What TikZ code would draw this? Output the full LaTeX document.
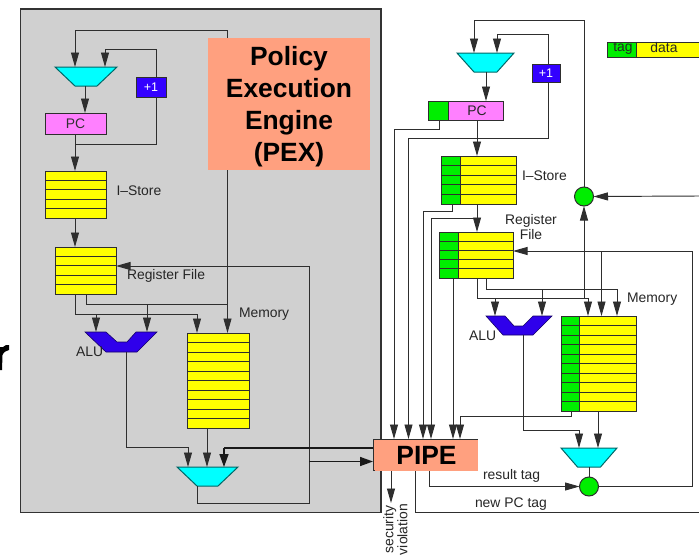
\documentclass[tikz,border=0pt]{standalone}
\usepackage{fontspec}
\setmainfont{Liberation Sans}
\usetikzlibrary{arrows.meta}
\definecolor{lc}{HTML}{2E2E2E}
\definecolor{bgray}{HTML}{D0D0D0}
\definecolor{salmon}{HTML}{FFA07F}
\definecolor{pcpink}{HTML}{FF80FF}
\definecolor{incblue}{HTML}{3300FF}
\definecolor{gtag}{HTML}{00EE00}
\definecolor{yel}{HTML}{FFFF00}
\definecolor{cy}{HTML}{00FFFF}
\tikzset{
  ln/.style={draw=lc,line width=0.95pt},
  arr/.style={ln,-{Triangle[length=14.5pt,width=8pt]}},
  thickln/.style={draw=black!90,line width=1.5pt},
  thickarr/.style={thickln,-{Triangle[length=13pt,width=9pt]}},
  sbox/.style={rectangle,draw=lc,line width=1pt,inner sep=0pt,outer sep=0pt},
  nobox/.style={rectangle,inner sep=0pt,outer sep=0pt},
  lab/.style={inner sep=0pt,outer sep=0pt,text=black!85,font=\fontsize{13.9}{15}\selectfont},
  big/.style={font=\fontsize{26.4}{32}\selectfont\bfseries,align=center,text=black},
  muxs/.style={fill=cy,draw=black!60!cy,line width=1pt,line join=miter},
  alus/.style={fill=incblue!92!black,draw=black!60!incblue,line width=0.6pt},
  circ/.style={circle,fill=gtag!100,draw=lc,line width=1pt,minimum size=19pt,inner sep=0pt,outer sep=0pt}
}
% name x1 y1 x2 y2 fill text
\newcommand\bx[7]{\node[sbox,fill=#6,minimum width={(#4-#2)*1pt},minimum height={(#5-#3)*1pt}] (#1) at ({(#2+#4)/2},{(#3+#5)/2}) {#7};}
% name x1 y1 x2 y2 rows
\newcommand\rows[6]{\bx{#1}{#2}{#3}{#4}{#5}{yel}{}%
  \pgfmathsetmacro\rstep{(#5-#3)/#6}%
  \foreach \ri in {1,...,\numexpr#6-1\relax}{\draw[ln] (#2,{#3+\ri*\rstep}) -- (#4,{#3+\ri*\rstep});}}
% name x1 y1 x2 y2 rows tagx
\newcommand\trows[7]{\bx{#1}{#2}{#3}{#4}{#5}{yel}{}%
  \fill[gtag] (#2,#3) rectangle (#7,#5);%
  \draw[sbox] (#2,#3) rectangle (#4,#5);%
  \draw[ln] (#7,#3) -- (#7,#5);%
  \pgfmathsetmacro\rstep{(#5-#3)/#6}%
  \foreach \ri in {1,...,\numexpr#6-1\relax}{\draw[ln] (#2,{#3+\ri*\rstep}) -- (#4,{#3+\ri*\rstep});}}
% name x-left x-right y-top y-bottom inset
\newcommand\mux[6]{\node[nobox,minimum width={(#3-#2)*1pt},minimum height={(#5-#4)*1pt}] (#1) at ({(#2+#3)/2},{(#4+#5)/2}) {};%
  \draw[muxs] (#2,#4) -- (#3,#4) -- ({#3-#6},#5) -- ({#2+#6},#5) -- cycle;}
\begin{document}
\begin{tikzpicture}[x=1pt,y=-1pt]
\useasboundingbox (0,0) rectangle (699,557);
\fill[white] (0,0) rectangle (699,557);
\draw[fill=bgray,draw=black!80,line width=1.1pt] (20.5,9) rectangle (381,512.5);
% stray fragment at the page edge
\fill[black] (0,347) -- (3,347) .. controls (4,345.5) and (7,344.5) .. (9,345) -- (9,350) .. controls (7,351) and (4,351) .. (2.5,355) -- (2,370) -- (0,370) -- cycle;

% ---------- left processor ----------
\mux{lmuxa}{55}{117}{67}{86}{20}
\bx{lpc}{45}{113}{106}{134}{pcpink}{\fontsize{13.9}{15}\selectfont\color{black!80}PC}
\bx{linc}{136}{77.5}{166}{97}{incblue}{\fontsize{12.5}{14}\selectfont\color{white}+1}
\rows{lis}{45}{171}{106}{218}{5}
\rows{lrf}{55}{247}{116}{294}{5}
\rows{lmem}{187}{333}{249}{428}{10}
\mux{lmuxb}{177}{238}{467}{486}{20}
\node[nobox,minimum width=72pt,minimum height=20pt] (lalu) at (121,342) {};
\draw[alus] (85,332) -- (106,332) -- (117,342) -- (127,342) -- (136,332) -- (157,332) -- (137,352) -- (106,352) -- cycle;

\bx{pipeedge}{373}{439}{477}{470}{salmon}{}
\node[nobox,fill=salmon,big,minimum width=103pt,minimum height=31pt] (pipe) at (426.5,455.5) {PIPE};

\coordinate (ljoinA) at (227.5,30);
\draw[arr] (227.5,304) -- (227.5,0 |- lmem.north);
\draw[ln] (227.5,304) -- (ljoinA) -| (75,50);
\draw[arr] (75,40) -- (75,0 |- lmuxa.north);
\draw[arr] (105,49) -- (105,0 |- lmuxa.north);
\draw[ln] (105,49) -- (156,49) -- (156,0 |- linc.north);
\draw[arr] (85,0 |- lmuxa.south) -- (85,0 |- lpc.north);
\draw[ln] (156,0 |- linc.south) |- (75,144);
\draw[arr] (75,0 |- lpc.south) -- (75,0 |- lis.north);
\draw[arr] (75,0 |- lis.south) -- (75,0 |- lrf.north);
\draw[ln] (75,0 |- lrf.south) |- (197,314);
\draw[arr] (197,314) -- (197,0 |- lmem.north);
\draw[ln] (86,0 |- lrf.south) |- (227.5,304);
\draw[arr] (96,314) -- (96,0 |- lalu.north);
\draw[arr] (147,304) -- (147,0 |- lalu.north);
\draw[ln] (126,0 |- lalu.south) |- (188,447);
\draw[arr] (188,447) -- (188,0 |- lmuxb.north);
\draw[arr] (207,0 |- lmem.south) -- (207,0 |- lmuxb.north);
\draw[ln] (197,0 |- lmuxb.south) |- (309,503) -- (309,266);
\draw[arr] (309,266) -- (lrf.east |- 0,266);
\draw[thickln] (pipeedge.west |- 0,448) -- (224,448);
\draw[thickarr] (224,448) -- (224,0 |- lmuxb.north);
\draw[thickarr] (309,461.5) -- (pipeedge.west |- 0,461.5);

\node[lab,anchor=west] (tA) at (116.5,190.5) {I–Store};
\node[lab,anchor=west] (tB) at (127,276) {Register File};
\node[lab,anchor=west] (tC) at (239,314.5) {Memory};
\node[lab,anchor=west] (tD) at (76,352) {ALU};

% ---------- right processor ----------
\mux{rmuxa}{457}{514}{53}{72}{17}
\bx{rinc}{532}{64.5}{560}{82}{incblue}{\fontsize{12.5}{14}\selectfont\color{white}+1}
\bx{rpc}{428}{101}{503}{120}{pcpink}{}
\fill[gtag] (428,101) rectangle (448,120);
\draw[sbox] (428,101) rectangle (503,120);
\draw[ln] (448,101) -- (448,120);
\node[lab] (tPC) at (477,110.5) {PC};
\trows{ris}{441}{156}{516}{204}{5}{460}
\trows{rrf}{439}{232}{513}{278}{5}{458}
\trows{rmem}{561}{316}{636}{411}{10}{579}
\mux{rmuxb}{561}{617}{448}{467}{16.5}
\node[nobox,minimum width=66pt,minimum height=19pt] (ralu) at (519,325.5) {};
\draw[alus] (486,316) -- (505,316) -- (514,326) -- (523,326) -- (533,316) -- (552,316) -- (533,335) -- (503,335) -- cycle;
\node[circ] (cA) at (584,196.5) {};
\node[circ] (cB) at (589,486.5) {};

\coordinate (newpc) at (699,512.5);
\coordinate (tagin) at (699,196);

\draw[ln] (584,0 |- cA.north) |- (474,20);
\draw[arr] (474,20) -- (474,0 |- rmuxa.north);
\draw[arr] (497,34) -- (497,0 |- rmuxa.north);
\draw[ln] (497,34) -| (548,0 |- rinc.north);
\draw[arr] (486,0 |- rmuxa.south) -- (486,0 |- rpc.north);
\draw[arr] (477,0 |- rpc.south) -- (477,0 |- ris.north);
\draw[arr] (477,0 |- ris.south) -- (477,0 |- rrf.north);
\draw[arr] (439,0 |- rpc.south) -- (439,129) -| (394,0 |- pipeedge.north);
\draw[arr] (548,0 |- rinc.south) |- (408.5,138) -- (408.5,0 |- pipeedge.north);
\draw[arr] (452,0 |- ris.south) -- (452,211.5) -| (423,0 |- pipeedge.north);
\draw[arr] (477,218) -| (431,0 |- pipeedge.north);
\draw[arr] (453,0 |- rrf.south) -- (453,0 |- pipeedge.north);
\draw[arr] (571,0 |- rmem.south) -- (571,416) -| (460,0 |- pipeedge.north);
\draw[ln] (477,0 |- rrf.south) |- (588,298);
\draw[arr] (588,298) -- (588,0 |- rmem.north);
\draw[ln] (486,0 |- rrf.south) |- (617,289);
\draw[arr] (617,289) -- (617,0 |- rmem.north);
\draw[arr] (495,298) -- (495,0 |- ralu.north);
\draw[arr] (542,289) -- (542,0 |- ralu.north);
\draw[arr] (584,298) -- (cA.south);
\draw[arr] (tagin) -- (cA.east);
\draw[arr] (601.5,251) -- (601.5,0 |- rmem.north);
\draw[ln] (cB.east) -| (692,251);
\draw[arr] (692,251) -- (rrf.east |- 0,251);
\draw[ln] (523,0 |- ralu.south) |- (579,430);
\draw[arr] (579,430) -- (579,0 |- rmuxb.north);
\draw[arr] (598,0 |- rmem.south) -- (598,0 |- rmuxb.north);
\draw[ln] (589,0 |- rmuxb.south) -- (cB.north);
\draw[arr] (429,0 |- pipe.south) |- (cB.west);
\draw[ln] (415.5,0 |- pipe.south) |- (newpc);
\coordinate (secv) at (391,503);
\draw[arr] (391,0 |- pipe.south) -- (secv);

\node[lab,anchor=west] (tE) at (522,176) {I–Store};
\node[lab,align=center] (tF) at (531,227) {Register\\File};
\node[lab,anchor=west] (tG) at (627,299) {Memory};
\node[lab,anchor=west] (tH) at (469,336) {ALU};
\node[lab,anchor=west] (tI) at (483,475.5) {result tag};
\node[lab,anchor=west] (tJ) at (475,504) {new PC tag};
\node[lab,rotate=90,align=center,font=\fontsize{13.9}{12.5}\selectfont] (tK) at (395.5,529.5) {security\\violation};

% legend
\bx{legy}{607}{42}{699.5}{57}{yel}{}
\fill[gtag] (607,42) rectangle (636,57);
\draw[sbox] (607,42) rectangle (699.5,57);
\draw[ln] (636,42) -- (636,57);
\node[lab] (tL) at (623,48) {tag};
\node[lab] (tM) at (664,47.5) {data};

% PEX label box on top
\node[nobox,fill=salmon,minimum width=162pt,minimum height=132pt] (pex) at (289,104) {};
\node[nobox,big] (pext) at (289,106.5) {Policy\\Execution\\Engine\\(PEX)};
\end{tikzpicture}
\end{document}
